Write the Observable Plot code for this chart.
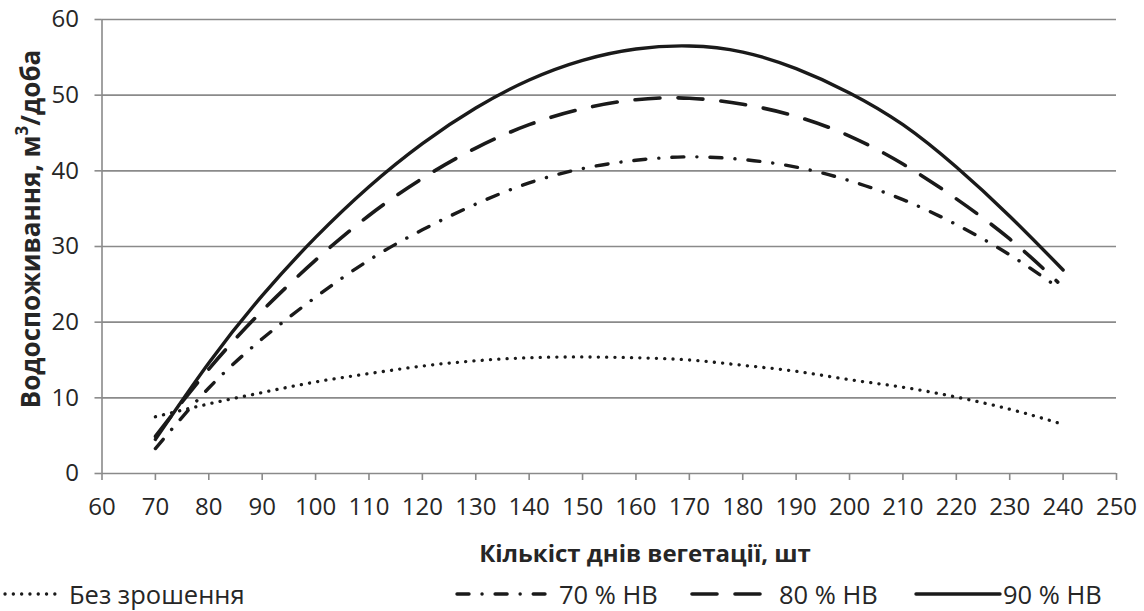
<!DOCTYPE html>
<html>
<head>
<meta charset="utf-8">
<script src="https://cdn.jsdelivr.net/npm/d3@7"></script>
<script src="https://cdn.jsdelivr.net/npm/@observablehq/plot@0.6"></script>
<style>
  html, body { margin: 0; padding: 0; background: #fff; }
  body { font-family: "Open Sans", "Noto Sans", sans-serif; color: #262626; }
  #wrap { position: relative; width: 1144px; height: 611px; overflow: hidden; }
  #chart { position: absolute; left: 0; top: 0; }
  .ytitle { position: absolute; left: 30px; top: 229px; transform: translate(-50%, -50%) rotate(-90deg);
            font-weight: 700; font-size: 26px; line-height: 1; white-space: nowrap; color: #262626; }
  .ytitle sup { font-size: 17px; line-height: 0; position: relative; top: -2px; }
  .xtitle { position: absolute; left: 645px; top: 553px; transform: translate(-50%, -50%);
            font-weight: 700; font-size: 24px; line-height: 1; white-space: nowrap; color: #262626; }
  .leg { position: absolute; top: 594px; transform: translateY(-50%); display: flex; align-items: center;
         font-size: 25.5px; line-height: 1.1; white-space: nowrap; color: #262626; }
  .leg svg { display: block; }
</style>
</head>
<body>
<div id="wrap">
  <div id="chart"></div>
  <div class="ytitle">Водоспоживання, м<sup>3</sup>/доба</div>
  <div class="xtitle">Кількіст днів вегетації, шт</div>
  <div id="legend"></div>
</div>
<script>
// ---- data ----
const days90 = [70, 80, 90, 100, 110, 120, 130, 140, 150, 160, 170, 180, 190, 200, 210, 220, 230, 240];
const daysOther = [70, 80, 90, 100, 110, 120, 130, 140, 150, 160, 170, 180, 190, 200, 210, 220, 230, 239];

const noIrrigation = [7.5, 9.2, 10.7, 12.1, 13.2, 14.2, 14.9, 15.3, 15.4, 15.3, 15.0, 14.3, 13.5, 12.4, 11.4, 10.1, 8.5, 6.7];
const hb70 = [3.3, 11.3, 17.8, 23.3, 28.2, 32.2, 35.6, 38.4, 40.3, 41.4, 41.85, 41.5, 40.5, 38.7, 36.2, 32.9, 28.9, 24.6];
const hb80 = [4.9, 13.8, 21.5, 28.2, 34.1, 39.0, 43.0, 46.1, 48.2, 49.4, 49.6, 48.8, 47.2, 44.6, 40.9, 36.3, 31.0, 25.3];
const hb90 = [4.5, 14.6, 23.5, 31.2, 37.9, 43.6, 48.3, 52.0, 54.6, 56.1, 56.5, 55.7, 53.5, 50.3, 46.1, 40.5, 34.0, 26.9];

const seriesNames = ["Без зрошення", "70 % НВ", "80 % НВ", "90 % НВ"];
const xTicks = [60, 70, 80, 90, 100, 110, 120, 130, 140, 150, 160, 170, 180, 190, 200, 210, 220, 230, 240, 250];
const yTicks = [0, 10, 20, 30, 40, 50, 60];

// ---- styles ----
const styles = {
  "Без зрошення": {strokeWidth: 3.3, strokeDasharray: "0.1 8.2", strokeLinecap: "round"},
  "70 % НВ": {strokeWidth: 3.4, strokeDasharray: "12 13 0.1 13", strokeLinecap: "round"},
  "80 % НВ": {strokeWidth: 3.6, strokeDasharray: "25 18", strokeLinecap: "round"},
  "90 % НВ": {strokeWidth: 3.4, strokeLinecap: "round"}
};

const table = (xs, ys) => xs.map((d, i) => ({day: d, value: ys[i]}));
const dataBy = {
  "Без зрошення": table(daysOther, noIrrigation),
  "70 % НВ": table(daysOther, hb70),
  "80 % НВ": table(daysOther, hb80),
  "90 % НВ": table(days90, hb90)
};

const gridColor = "#8a8a8a";
const tickFont = 24;

const chart = Plot.plot({
  width: 1144,
  height: 575,
  marginLeft: 101.5,
  marginRight: 28,
  marginTop: 19,
  marginBottom: 102,
  style: {fontFamily: '"Open Sans", sans-serif', fontSize: tickFont + "px", color: "#262626", background: "transparent", overflow: "visible"},
  x: {domain: [60, 250]},
  y: {domain: [0, 60]},
  marks: [
    Plot.gridY(yTicks, {stroke: gridColor, strokeOpacity: 1, strokeWidth: 1.6}),
    Plot.ruleX([60], {stroke: gridColor, strokeWidth: 1.6}),
    Plot.axisX(xTicks, {tickSize: 7, tickPadding: 17, stroke: gridColor, strokeWidth: 1.6, fontSize: tickFont, fill: "#262626", label: null}),
    Plot.axisY(yTicks, {tickSize: 7, tickPadding: 16, stroke: gridColor, strokeWidth: 1.6, fontSize: tickFont, fill: "#262626", label: null}),
    ...seriesNames.map(name => Plot.line(dataBy[name], {
      x: "day", y: "value", curve: "natural", stroke: "#1a1a1a", ...styles[name]
    }))
  ]
});
document.getElementById("chart").appendChild(chart);

// ---- legend ----
const legendPos = [
  {name: "Без зрошення", left: 3, swatch: 60, gap: 6},
  {name: "70 % НВ", left: 455, swatch: 92, gap: 12},
  {name: "80 % НВ", left: 690, swatch: 88, gap: 1},
  {name: "90 % НВ", left: 914, swatch: 88, gap: 1}
];
const legend = document.getElementById("legend");
legendPos.forEach(p => {
  const item = document.createElement("div");
  item.className = "leg";
  item.style.left = p.left + "px";
  const st = styles[p.name];
  const sw = `<svg width="${p.swatch}" height="12"><line x1="2" y1="6" x2="${p.swatch - 2}" y2="6" stroke="#1a1a1a" stroke-width="${st.strokeWidth}" ${st.strokeDasharray ? `stroke-dasharray="${st.strokeDasharray}"` : ""} stroke-linecap="round"/></svg>`;
  item.innerHTML = sw + `<span style="margin-left:${p.gap}px">${p.name}</span>`;
  legend.appendChild(item);
});
</script>
</body>
</html>
